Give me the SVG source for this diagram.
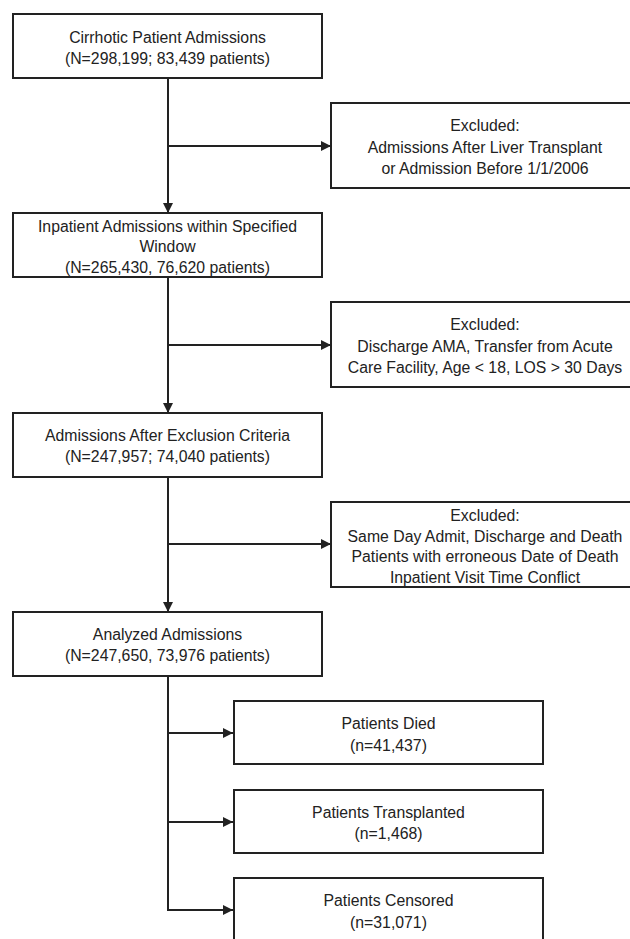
<svg xmlns="http://www.w3.org/2000/svg" width="630" height="939" viewBox="0 0 630 939">
<style>
.box{fill:#fff;stroke:#222;stroke-width:2}
.t{font-family:"Liberation Sans",Arial,sans-serif;font-size:15.8px;fill:#222;text-anchor:middle;dominant-baseline:central}
.c{fill:none;stroke:#222;stroke-width:2}
</style>
<defs>
<marker id="ah" markerUnits="userSpaceOnUse" markerWidth="10" markerHeight="10" viewBox="0 0 10 10" refX="10" refY="5" orient="auto">
<path d="M0,0 L10,5 L0,10 z" fill="#222"/>
</marker>
</defs>
<rect width="630" height="939" fill="#fff"/>
<g id="connectors">
<path class="c" d="M168,78 V213" marker-end="url(#ah)"/>
<path class="c" d="M168,146 H331" marker-end="url(#ah)"/>
<path class="c" d="M168,277 V413" marker-end="url(#ah)"/>
<path class="c" d="M168,345 H331" marker-end="url(#ah)"/>
<path class="c" d="M168,477 V612" marker-end="url(#ah)"/>
<path class="c" d="M168,544 H331" marker-end="url(#ah)"/>
<path class="c" d="M168,676 V910 H233"  marker-end="url(#ah)"/>
<path class="c" d="M168,733 H233" marker-end="url(#ah)"/>
<path class="c" d="M168,822 H233" marker-end="url(#ah)"/>
</g>
<g id="n1">
<rect class="box" x="13" y="14" width="309" height="64"/>
<text class="t" x="167.5" y="37">Cirrhotic Patient Admissions</text>
<text class="t" x="167.5" y="58">(N=298,199; 83,439 patients)</text>
</g>
<g id="x1">
<rect class="box" x="331" y="103" width="310" height="85"/>
<text class="t" x="485" y="125">Excluded:</text>
<text class="t" x="485" y="147">Admissions After Liver Transplant</text>
<text class="t" x="485" y="168">or Admission Before 1/1/2006</text>
</g>
<g id="n2">
<rect class="box" x="13" y="213" width="309" height="64"/>
<text class="t" x="167.5" y="226">Inpatient Admissions within Specified</text>
<text class="t" x="167.5" y="246">Window</text>
<text class="t" x="167.5" y="267">(N=265,430, 76,620 patients)</text>
</g>
<g id="x2">
<rect class="box" x="331" y="302" width="310" height="85"/>
<text class="t" x="485" y="324">Excluded:</text>
<text class="t" x="485" y="346">Discharge AMA, Transfer from Acute</text>
<text class="t" x="485" y="367">Care Facility, Age &lt; 18, LOS &gt; 30 Days</text>
</g>
<g id="n3">
<rect class="box" x="13" y="413" width="309" height="64"/>
<text class="t" x="167.5" y="435">Admissions After Exclusion Criteria</text>
<text class="t" x="167.5" y="456">(N=247,957; 74,040 patients)</text>
</g>
<g id="x3">
<rect class="box" x="331" y="502" width="310" height="85"/>
<text class="t" x="485" y="515">Excluded:</text>
<text class="t" x="485" y="536">Same Day Admit, Discharge and Death</text>
<text class="t" x="485" y="556">Patients with erroneous Date of Death</text>
<text class="t" x="485" y="577">Inpatient Visit Time Conflict</text>
</g>
<g id="n4">
<rect class="box" x="13" y="612" width="309" height="64"/>
<text class="t" x="167.5" y="634">Analyzed Admissions</text>
<text class="t" x="167.5" y="655">(N=247,650, 73,976 patients)</text>
</g>
<g id="o1">
<rect class="box" x="234" y="701" width="309" height="63"/>
<text class="t" x="388.5" y="723">Patients Died</text>
<text class="t" x="388.5" y="745">(n=41,437)</text>
</g>
<g id="o2">
<rect class="box" x="234" y="790" width="309" height="63"/>
<text class="t" x="388.5" y="812">Patients Transplanted</text>
<text class="t" x="388.5" y="833">(n=1,468)</text>
</g>
<g id="o3">
<rect class="box" x="234" y="878" width="309" height="70"/>
<text class="t" x="388.5" y="900">Patients Censored</text>
<text class="t" x="388.5" y="922">(n=31,071)</text>
</g>
</svg>
